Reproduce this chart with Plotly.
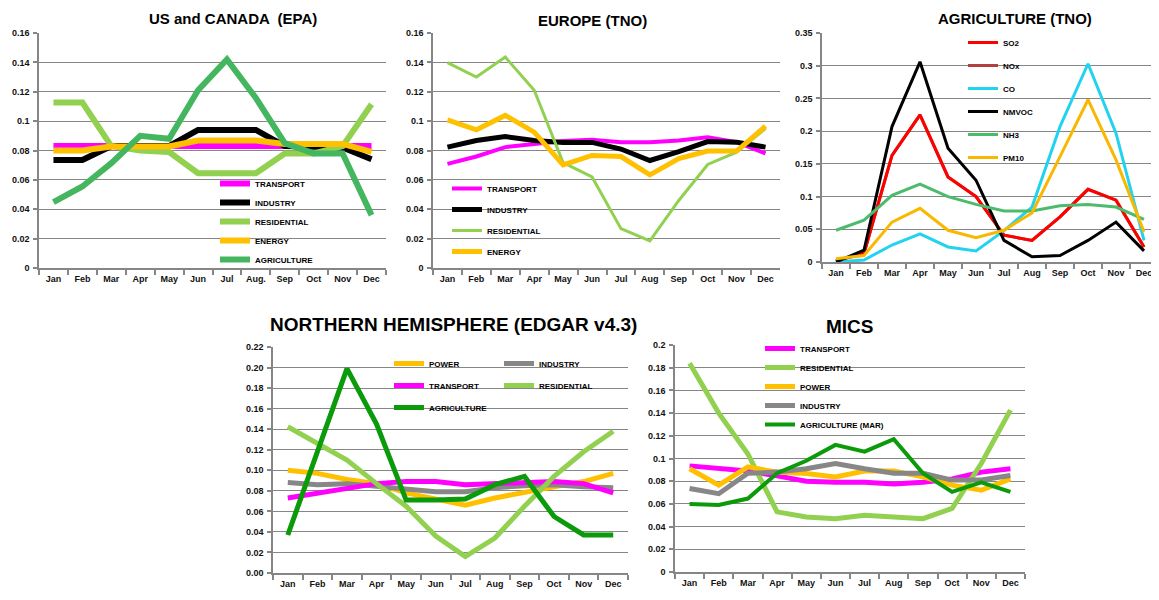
import plotly.graph_objects as go

months = ["Jan", "Feb", "Mar", "Apr", "May", "Jun", "Jul", "Aug.", "Sep", "Oct", "Nov", "Dec"]
months_std = ["Jan", "Feb", "Mar", "Apr", "May", "Jun", "Jul", "Aug", "Sep", "Oct", "Nov", "Dec"]

# ---- Panel 1: US and CANADA (EPA)
us_transport = [0.083, 0.083, 0.083, 0.083, 0.083, 0.083, 0.083, 0.083, 0.083, 0.083, 0.083, 0.083]
us_industry = [0.0736, 0.0736, 0.083, 0.083, 0.083, 0.094, 0.094, 0.094, 0.083, 0.082, 0.082, 0.074]
us_residential = [0.1127, 0.1127, 0.083, 0.080, 0.079, 0.0645, 0.0645, 0.0645, 0.078, 0.078, 0.083, 0.1115]
us_energy = [0.080, 0.080, 0.0827, 0.0827, 0.0827, 0.0868, 0.0868, 0.0868, 0.0845, 0.0845, 0.0845, 0.079]
us_agriculture = [0.0448, 0.0555, 0.0714, 0.090, 0.088, 0.121, 0.142, 0.1157, 0.085, 0.078, 0.078, 0.036]

# ---- Panel 2: EUROPE (TNO)
eu_transport = [0.0709, 0.0759, 0.0823, 0.0845, 0.0864, 0.0873, 0.0857, 0.0857, 0.0868, 0.089, 0.0857, 0.078]
eu_industry = [0.0823, 0.0868, 0.0895, 0.0868, 0.0855, 0.0855, 0.081, 0.0732, 0.0793, 0.0861, 0.0857, 0.0823]
eu_residential = [0.1398, 0.130, 0.1436, 0.121, 0.0718, 0.062, 0.0268, 0.0184, 0.046, 0.0705, 0.0789, 0.095]
eu_energy = [0.1009, 0.0941, 0.1039, 0.0925, 0.0702, 0.0766, 0.0759, 0.0634, 0.0745, 0.0796, 0.0796, 0.0966]

# ---- Panel 3: AGRICULTURE (TNO)
ag_so2 = [0.002, 0.013, 0.163, 0.225, 0.130, 0.100, 0.041, 0.033, 0.069, 0.111, 0.0945, 0.023]
ag_nox = [0.002, 0.013, 0.163, 0.225, 0.130, 0.100, 0.041, 0.033, 0.069, 0.111, 0.0945, 0.023]
ag_co = [0.0, 0.003, 0.026, 0.043, 0.023, 0.017, 0.048, 0.084, 0.207, 0.303, 0.197, 0.033]
ag_nmvoc = [0.0, 0.018, 0.207, 0.306, 0.174, 0.125, 0.033, 0.008, 0.010, 0.033, 0.061, 0.017]
ag_nh3 = [0.0485, 0.064, 0.102, 0.119, 0.100, 0.088, 0.078, 0.078, 0.086, 0.088, 0.084, 0.065]
ag_pm10 = [0.005, 0.010, 0.061, 0.082, 0.0485, 0.037, 0.0485, 0.075, 0.161, 0.248, 0.156, 0.046]

# ---- Panel 4: NORTHERN HEMISPHERE (EDGAR v4.3)
nh_power = [0.100, 0.097, 0.091, 0.087, 0.078, 0.072, 0.066, 0.073, 0.079, 0.084, 0.089, 0.097]
nh_industry = [0.088, 0.086, 0.087, 0.084, 0.081, 0.079, 0.079, 0.083, 0.085, 0.086, 0.084, 0.083]
nh_transport = [0.073, 0.078, 0.083, 0.087, 0.089, 0.089, 0.086, 0.087, 0.089, 0.089, 0.087, 0.078]
nh_residential = [0.1424, 0.126, 0.110, 0.087, 0.065, 0.036, 0.016, 0.034, 0.065, 0.094, 0.118, 0.138]
nh_agriculture = [0.037, 0.118, 0.199, 0.145, 0.071, 0.071, 0.072, 0.086, 0.094, 0.055, 0.037, 0.037]

# ---- Panel 5: MICS
mi_transport = [0.0935, 0.091, 0.089, 0.0847, 0.080, 0.079, 0.079, 0.0776, 0.079, 0.082, 0.088, 0.091]
mi_residential = [0.184, 0.140, 0.104, 0.053, 0.0485, 0.047, 0.050, 0.049, 0.047, 0.056, 0.0956, 0.1426]
mi_power = [0.091, 0.0765, 0.0926, 0.088, 0.0868, 0.0838, 0.089, 0.089, 0.0838, 0.0765, 0.072, 0.082]
mi_industry = [0.0735, 0.069, 0.087, 0.088, 0.091, 0.0956, 0.091, 0.087, 0.087, 0.081, 0.081, 0.085]
mi_agriculture = [0.060, 0.059, 0.0647, 0.087, 0.098, 0.112, 0.106, 0.117, 0.087, 0.0706, 0.079, 0.0706]

# tick labels
yt1_vals = [0, 0.02, 0.04, 0.06, 0.08, 0.1, 0.12, 0.14, 0.16]
yt1_text = ["0", "0.02", "0.04", "0.06", "0.08", "0.1", "0.12", "0.14", "0.16"]
yt3_vals = [0, 0.05, 0.1, 0.15, 0.2, 0.25, 0.3, 0.35]
yt3_text = ["0", "0.05", "0.1", "0.15", "0.2", "0.25", "0.3", "0.35"]
yt4_vals = [0, 0.02, 0.04, 0.06, 0.08, 0.10, 0.12, 0.14, 0.16, 0.18, 0.20, 0.22]
yt4_text = ["0.00", "0.02", "0.04", "0.06", "0.08", "0.10", "0.12", "0.14", "0.16", "0.18", "0.20", "0.22"]
yt5_vals = [0, 0.02, 0.04, 0.06, 0.08, 0.1, 0.12, 0.14, 0.16, 0.18, 0.2]
yt5_text = ["0", "0.02", "0.04", "0.06", "0.08", "0.1", "0.12", "0.14", "0.16", "0.18", "0.2"]

# the page body has an 8px margin, so the figure starts at (8, 8) in the window
OFF = 8
W, H = 1151, 592
MAGENTA = "#ff00ff"
BLACK = "#000000"
LGREEN = "#92d050"
ORANGE = "#ffc000"
MGREEN = "#45b660"
DGREEN = "#0a9a0a"
GRAY = "#878787"
AXC = "#868686"


def fx(px):
    return (px - OFF) / W


def fy(py):
    return 1 - (py - OFF) / H


fig = go.Figure()


def add(x, y, name, color, width, ax, legend, rank):
    fig.add_trace(go.Scatter(
        x=x, y=y, name=name, mode="lines",
        line=dict(color=color, width=width),
        xaxis="x" + ax, yaxis="y" + ax,
        legend=legend, legendgroup=legend + str(rank), legendrank=rank,
        showlegend=True, hoverinfo="skip",
    ))


# panel 1
add(months, us_transport, "TRANSPORT", MAGENTA, 6, "", "legend", 1)
add(months, us_industry, "INDUSTRY", BLACK, 6, "", "legend", 2)
add(months, us_residential, "RESIDENTIAL", LGREEN, 6, "", "legend", 3)
add(months, us_energy, "ENERGY", ORANGE, 6, "", "legend", 4)
add(months, us_agriculture, "AGRICULTURE", MGREEN, 6, "", "legend", 5)
# panel 2
add(months_std, eu_transport, "TRANSPORT", MAGENTA, 4, "2", "legend2", 1)
add(months_std, eu_industry, "INDUSTRY", BLACK, 5, "2", "legend2", 2)
add(months_std, eu_residential, "RESIDENTIAL", LGREEN, 3, "2", "legend2", 3)
add(months_std, eu_energy, "ENERGY", ORANGE, 5, "2", "legend2", 4)
# panel 3
add(months_std, ag_nox, "NOx", "#b0413e", 3, "3", "legend3", 2)
add(months_std, ag_so2, "SO2", "#ff0000", 3, "3", "legend3", 1)
add(months_std, ag_co, "CO", "#22d3f0", 3, "3", "legend3", 3)
add(months_std, ag_nmvoc, "NMVOC", BLACK, 3, "3", "legend3", 4)
add(months_std, ag_nh3, "NH3", "#4cbb6c", 3, "3", "legend3", 5)
add(months_std, ag_pm10, "PM10", "#f9b800", 3, "3", "legend3", 6)
# panel 4
add(months_std, nh_power, "POWER", ORANGE, 5, "4", "legend4", 1)
add(months_std, nh_industry, "INDUSTRY", GRAY, 5, "4", "legend5", 1)
add(months_std, nh_transport, "TRANSPORT", MAGENTA, 5, "4", "legend4", 2)
add(months_std, nh_residential, "RESIDENTIAL", LGREEN, 5, "4", "legend5", 2)
add(months_std, nh_agriculture, "AGRICULTURE", DGREEN, 5, "4", "legend4", 3)
# panel 5
add(months_std, mi_transport, "TRANSPORT", MAGENTA, 5, "5", "legend6", 1)
add(months_std, mi_residential, "RESIDENTIAL", LGREEN, 5, "5", "legend6", 2)
add(months_std, mi_power, "POWER", ORANGE, 5, "5", "legend6", 3)
add(months_std, mi_industry, "INDUSTRY", GRAY, 5, "5", "legend6", 4)
add(months_std, mi_agriculture, "AGRICULTURE (MAR)", DGREEN, 4, "5", "legend6", 5)

FONT = "Liberation Sans, Arial, sans-serif"
tickfont = dict(family=FONT, size=9, color="#111111", weight="bold")


def xax(x0, x1, anchor):
    return dict(domain=[fx(x0), fx(x1)], anchor=anchor, type="category",
                range=[-0.5, 11.5], tickangle=0,
                showline=True, linecolor=AXC, linewidth=1.5, ticks="outside",
                tickson="boundaries", ticklen=5, tickcolor=AXC, tickwidth=1.5,
                showgrid=False, zeroline=False, tickfont=tickfont,
                ticklabelstandoff=1, fixedrange=True, automargin=False)


def yax(y0, y1, anchor, rng, tv, tt):
    return dict(domain=[fy(y1), fy(y0)], anchor=anchor, range=rng,
                tickvals=tv, ticktext=tt, showline=True, linecolor=AXC,
                linewidth=1.5, ticks="outside", ticklen=4, tickcolor=AXC,
                tickwidth=1.5, showgrid=True, gridcolor=AXC, gridwidth=1,
                zeroline=False, tickfont=tickfont, ticklabelstandoff=2,
                fixedrange=True, automargin=False)


def leg(left, top, gap):
    return dict(x=fx(left), y=fy(top), xanchor="left", yanchor="top",
                bgcolor="rgba(0,0,0,0)", borderwidth=0, tracegroupgap=gap,
                font=dict(family=FONT, size=8, color="#000000", weight="bold"),
                itemwidth=30, orientation="v", traceorder="grouped")


def title(text, cx, cy, size):
    return dict(text=text, x=fx(cx), y=fy(cy), xref="paper", yref="paper",
                xanchor="center", yanchor="middle", showarrow=False,
                font=dict(family=FONT, size=size, color="#000000", weight="bold"))


fig.update_layout(
    width=W, height=H,
    margin=dict(l=0, r=0, t=0, b=0, autoexpand=False),
    paper_bgcolor="white", plot_bgcolor="white",
    xaxis=xax(39, 386, "y"),
    yaxis=yax(33, 268, "x", [0, 0.16], yt1_vals, yt1_text),
    xaxis2=xax(433, 780, "y2"),
    yaxis2=yax(33, 268, "x2", [0, 0.16], yt1_vals, yt1_text),
    xaxis3=xax(822, 1158, "y3"),
    yaxis3=yax(33, 262, "x3", [0, 0.35], yt3_vals, yt3_text),
    xaxis4=xax(273, 628, "y4"),
    yaxis4=yax(347, 573, "x4", [0, 0.22], yt4_vals, yt4_text),
    xaxis5=xax(675, 1025, "y5"),
    yaxis5=yax(345, 572, "x5", [0, 0.2], yt5_vals, yt5_text),
    legend=leg(215, 169, 0),
    legend2=leg(447, 174, 2),
    legend3=leg(963, 28, 4),
    legend4=leg(389, 349, 3),
    legend5=leg(499, 349, 3),
    legend6=leg(760, 334, 0),
    annotations=[
        title("US and CANADA  (EPA)", 233, 19, 15),
        title("EUROPE (TNO)", 592, 21, 15),
        title("AGRICULTURE (TNO)", 1015, 19, 15),
        title("NORTHERN HEMISPHERE (EDGAR v4.3)", 453, 324, 19),
        title("MICS", 850, 326, 19),
    ],
    showlegend=True,
)

fig.write_html("out.html")
